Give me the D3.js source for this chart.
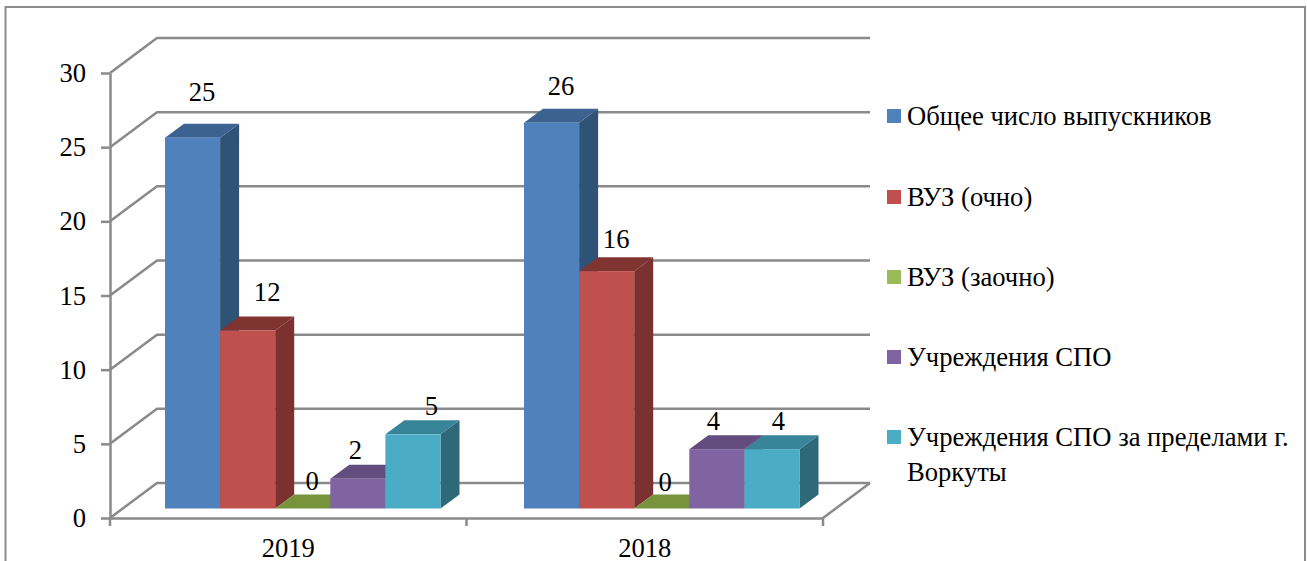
<!DOCTYPE html>
<html>
<head>
<meta charset="utf-8">
<script src="https://cdn.jsdelivr.net/npm/d3@7"></script>
<style>
    html, body { margin: 0; padding: 0; background: #fff; overflow: hidden; }
    text { font-family: "Liberation Serif", serif; fill: #000; }
</style>
</head>
<body>
<div id="graph"></div>
<script>
// chart values
const years = ["2019", "2018"];
const seriesNames = ["Общее число выпускников", "ВУЗ (очно)", "ВУЗ (заочно)", "Учреждения СПО", "Учреждения СПО за пределами г. Воркуты"];
const values2019 = [25, 12, 0, 2, 5];
const values2018 = [26, 16, 0, 4, 4];
const yTicks = [0, 5, 10, 15, 20, 25, 30];

// colours of bar faces
const frontColors = ["#4f81bd", "#c0504d", "#9bbb59", "#8064a2", "#4bacc6"];
const topColors = ["#3c6291", "#7f3431", "#77933c", "#634c7e", "#388498"];
const sideColors = ["#2f5277", "#7a3130", "#5c7230", "#4d3b62", "#2f6878"];

// layout
const width = 1307, height = 561;
const depth = {x: 47, y: 35};      // walls
const barDepth = {x: 19, y: 14};   // the bars themselves
const barFloor = 9.5;              // bars stand a little behind the front edge
const fontSize = 26.6;

// hand placed data label nudges, [dx, dy] from the middle of the bar's back edge
const labelNudge = {
    "2019": [[0, -23], [10, -16], [0, -5], [-12, -6], [9, -5]],
    "2018": [[0, -14], [0, -9], [-6, -4], [-13, -5], [-3, -5]]
};

let svg = d3.select("#graph")
    .append("svg")
    .attr("width", width)
    .attr("height", height)
    .style("display", "block");

//outer frame, runs off the bottom of the picture
svg.append("rect")
    .attr("x", 5.5)
    .attr("y", 7)
    .attr("width", 1299.5)
    .attr("height", 580)
    .attr("fill", "#fff")
    .attr("stroke", "#8c8c8c")
    .attr("stroke-width", 2);

let y = d3.scaleLinear().domain([0, 30]).range([518, 73]);
let x = d3.scaleBand().domain(years).range([110, 823]);

//bars sit on their own slightly wider band
let xBars = d3.scaleBand().domain(years).range([165, 799.5]).paddingInner(0.2326);
let xSeries = d3.scaleBand().domain(d3.range(seriesNames.length)).range([0, xBars.bandwidth()]);

const gridColor = "#8a8a8a";
const gridWidth = 2.5;

//back wall lines and the diagonals on the left wall
let grid = svg.append("g").attr("class", "grid")
    .attr("stroke", gridColor)
    .attr("stroke-width", gridWidth)
    .attr("fill", "none");

grid.selectAll("path")
    .data(yTicks)
    .enter()
    .append("path")
    .attr("d", d => `M${x.range()[0]},${y(d)}L${x.range()[0] + depth.x},${y(d) - depth.y}H${x.range()[1] + depth.x}`);

//floor right edge
grid.append("path")
    .attr("d", `M${x.range()[1]},${y(0)}L${x.range()[1] + depth.x},${y(0) - depth.y}`);

//y axis
let yAxis = svg.append("g")
    .attr("transform", `translate(${x.range()[0]}, 0)`)
    .call(d3.axisLeft(y).tickValues(yTicks).tickSize(9).tickPadding(15).tickSizeOuter(0));
yAxis.selectAll("line, path").attr("stroke", gridColor).attr("stroke-width", gridWidth);
yAxis.selectAll("text").style("font-size", fontSize + "px").attr("font-family", null);

//x axis, ticks go on the category edges so labels are drawn on a tick-less axis
let xAxis = svg.append("g")
    .attr("transform", `translate(0, ${y(0)})`)
    .call(d3.axisBottom(x).tickSize(0).tickPadding(20));
xAxis.select("path").attr("stroke", gridColor).attr("stroke-width", gridWidth);
xAxis.selectAll("text").style("font-size", fontSize + "px").attr("font-family", null);
xAxis.selectAll("line.edge")
    .data([x.range()[0], x.range()[0] + x.step(), x.range()[1]])
    .enter()
    .append("line")
    .attr("class", "edge")
    .attr("x1", d => d).attr("x2", d => d)
    .attr("y1", 0).attr("y2", 8)
    .attr("stroke", gridColor)
    .attr("stroke-width", gridWidth);

//one table of bars, built from the small arrays
let barData = [];
years.forEach(function(year, yi) {
    let vals = yi == 0 ? values2019 : values2018;
    vals.forEach(function(v, i) {
        barData.push({year: year, i: i, value: v});
    });
});

function barBox(d) {
    let x0 = xBars(d.year) + xSeries(d.i);
    return {x0: x0, x1: x0 + xSeries.bandwidth(), base: y(0) - barFloor, top: y(d.value) - barFloor};
}

let bars = svg.selectAll("g.bar")
    .data(barData)
    .enter()
    .append("g")
    .attr("class", "bar");

//right side
bars.append("path")
    .attr("fill", d => sideColors[d.i])
    .attr("d", function(d) {
        let b = barBox(d);
        return `M${b.x1},${b.base}V${b.top}l${barDepth.x},${-barDepth.y}V${b.base - barDepth.y}Z`;
    });

//top
bars.append("path")
    .attr("fill", d => topColors[d.i])
    .attr("d", function(d) {
        let b = barBox(d);
        return `M${b.x0},${b.top}H${b.x1}l${barDepth.x},${-barDepth.y}H${b.x0 + barDepth.x}Z`;
    });

//front
bars.append("rect")
    .attr("fill", d => frontColors[d.i])
    .attr("x", d => barBox(d).x0)
    .attr("y", d => barBox(d).top)
    .attr("width", xSeries.bandwidth())
    .attr("height", d => barBox(d).base - barBox(d).top);

//data labels
svg.selectAll("text.value")
    .data(barData)
    .enter()
    .append("text")
    .attr("class", "value")
    .attr("text-anchor", "middle")
    .style("font-size", fontSize + "px")
    .attr("x", function(d) {
        let b = barBox(d);
        return (b.x0 + b.x1) / 2 + barDepth.x / 2 + labelNudge[d.year][d.i][0];
    })
    .attr("y", function(d) {
        return barBox(d).top - barDepth.y + labelNudge[d.year][d.i][1];
    })
    .text(d => d.value);

//legend
const legendRows = [116, 197, 277, 357, 437];
let legend = svg.selectAll("g.legend")
    .data(seriesNames)
    .enter()
    .append("g")
    .attr("class", "legend")
    .attr("transform", (d, i) => `translate(887, ${legendRows[i]})`);

legend.append("rect")
    .attr("y", -7)
    .attr("width", 14)
    .attr("height", 14)
    .attr("fill", (d, i) => frontColors[i]);

//last name wraps onto a second line
legend.each(function(d) {
    let lines = d.length > 30 ? ["Учреждения СПО за пределами г.", "Воркуты"] : [d];
    d3.select(this).selectAll("text")
        .data(lines)
        .enter()
        .append("text")
        .attr("x", 20)
        .attr("y", (l, i) => 8.5 + i * 35)
        .style("font-size", fontSize + "px")
        .text(l => l);
});
</script>
</body>
</html>
